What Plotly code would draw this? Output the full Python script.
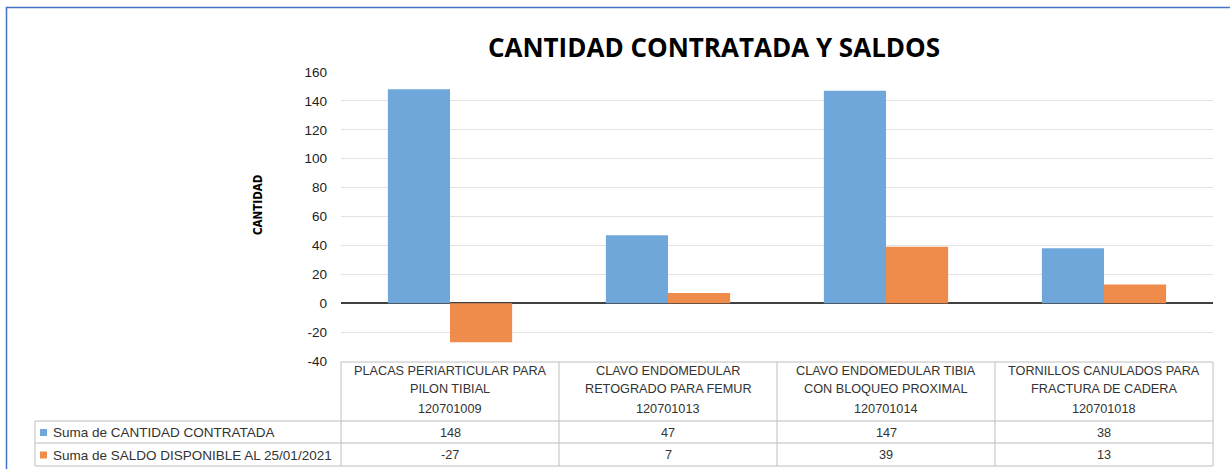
import plotly.graph_objects as go

# ---- data ----
cat_line1 = ["PLACAS PERIARTICULAR PARA", "CLAVO ENDOMEDULAR", "CLAVO ENDOMEDULAR TIBIA", "TORNILLOS CANULADOS PARA"]
cat_line2 = ["PILON TIBIAL", "RETOGRADO PARA FEMUR", "CON BLOQUEO PROXIMAL", "FRACTURA DE CADERA"]
codes = ["120701009", "120701013", "120701014", "120701018"]
series_names = ["Suma de CANTIDAD CONTRATADA", "Suma de SALDO DISPONIBLE AL 25/01/2021"]
cantidad = [148, 47, 147, 38]
saldo = [-27, 7, 39, 13]
y_ticks = [-40, -20, 0, 20, 40, 60, 80, 100, 120, 140, 160]
y_tick_text = ["-40", "-20", "0", "20", "40", "60", "80", "100", "120", "140", "160"]

BLUE = "#6FA7DB"
ORANGE = "#EF8C4C"
FONT = "Liberation Sans, Arial, sans-serif"

W, H = 1230, 469
L, R, T, B = 341, 1213, 72, 361


def px(x):
    return (x - L) / (R - L)


def py(y):
    return (B - y) / (B - T)


x_idx = list(range(len(codes)))

fig = go.Figure()
fig.add_trace(go.Bar(x=x_idx, y=cantidad, name=series_names[0], marker=dict(color=BLUE, line=dict(width=0))))
fig.add_trace(go.Bar(x=x_idx, y=saldo, name=series_names[1], marker=dict(color=ORANGE, line=dict(width=0))))

shapes = []
annotations = []

# outer frame
shapes.append(dict(type="rect", xref="paper", yref="paper", x0=px(6.5), x1=px(1260), y0=py(7.5), y1=py(500),
                   line=dict(color="#4472C4", width=1.5), layer="below"))

grid_c = "#BFBFBF"
col_w = (R - L) / len(codes)
top, hdr_bot, r1_bot, r2_bot = 362, 421, 443, 466
leg_left = 35
line = dict(color=grid_c, width=1)
shapes.append(dict(type="line", xref="paper", yref="paper", x0=px(L), x1=px(R), y0=py(top), y1=py(top), line=line))
for yy in (hdr_bot, r1_bot, r2_bot):
    shapes.append(dict(type="line", xref="paper", yref="paper", x0=px(leg_left), x1=px(R), y0=py(yy), y1=py(yy), line=line))
shapes.append(dict(type="line", xref="paper", yref="paper", x0=px(leg_left), x1=px(leg_left), y0=py(hdr_bot), y1=py(r2_bot), line=line))
for i in range(len(codes) + 1):
    xx = L + i * col_w
    shapes.append(dict(type="line", xref="paper", yref="paper", x0=px(xx), x1=px(xx), y0=py(top), y1=py(r2_bot), line=line))

tf = dict(family=FONT, size=12.7, color="#333333")
lf = dict(family=FONT, size=13.5, color="#333333")
for i in range(len(codes)):
    cx = px(L + (i + 0.5) * col_w)
    for text, yy in ((cat_line1[i], 371), (cat_line2[i], 389), (codes[i], 409)):
        annotations.append(dict(x=cx, y=py(yy), xref="paper", yref="paper", text=text, showarrow=False,
                                font=tf, xanchor="center", yanchor="middle"))
    annotations.append(dict(x=cx, y=py(432.5), xref="paper", yref="paper", text=str(cantidad[i]), showarrow=False,
                            font=tf, xanchor="center", yanchor="middle"))
    annotations.append(dict(x=cx, y=py(455), xref="paper", yref="paper", text=str(saldo[i]), showarrow=False,
                            font=tf, xanchor="center", yanchor="middle"))

for name, color, yy in ((series_names[0], BLUE, 432.5), (series_names[1], ORANGE, 455)):
    shapes.append(dict(type="rect", xref="paper", yref="paper", x0=px(40), x1=px(47), y0=py(yy - 3.5), y1=py(yy + 3.5),
                       fillcolor=color, line=dict(width=0)))
    annotations.append(dict(x=px(51), y=py(yy), xref="paper", yref="paper", text=name, showarrow=False,
                            font=lf, xanchor="left", yanchor="middle"))

annotations.append(dict(x=px(258), y=py(205), xref="paper", yref="paper", text="<b>CANTIDAD</b>", showarrow=False,
                        textangle=-90, font=dict(family="Liberation Sans Narrow, DejaVu Sans Condensed, Arial Narrow, sans-serif",
                                                 size=11.5, color="#000000"),
                        xanchor="center", yanchor="middle"))

fig.update_layout(
    width=W, height=H, autosize=False,
    margin=dict(l=L, r=W - R, t=T, b=H - B, pad=0),
    paper_bgcolor="white", plot_bgcolor="white",
    title=dict(text="<b>CANTIDAD CONTRATADA Y SALDOS</b>", x=px(714), xref="paper", xanchor="center",
               y=1 - 48 / H, yanchor="middle", font=dict(family="Open Sans, Liberation Sans, sans-serif", size=26, color="#000000")),
    barmode="group", bargap=0.43, bargroupgap=0,
    showlegend=False,
    shapes=shapes, annotations=annotations,
    font=dict(family=FONT, size=13, color="#222222"),
)
fig.update_xaxes(range=[-0.5, len(codes) - 0.5], showticklabels=False, showgrid=False, zeroline=False, showline=False,
                 ticks="", fixedrange=True)
fig.update_yaxes(range=[-40, 160], tickvals=y_ticks, ticktext=y_tick_text, showgrid=True, gridcolor="#E3E3E3", gridwidth=1,
                 zeroline=True, zerolinecolor="#404040", zerolinewidth=2, showline=False,
                 tickfont=dict(family=FONT, size=13.5, color="#222222"), ticklabelstandoff=13, fixedrange=True)

fig.write_html("out.html", config={"displayModeBar": False},
               post_script="document.body.style.margin='0';document.body.style.overflow='hidden';")
